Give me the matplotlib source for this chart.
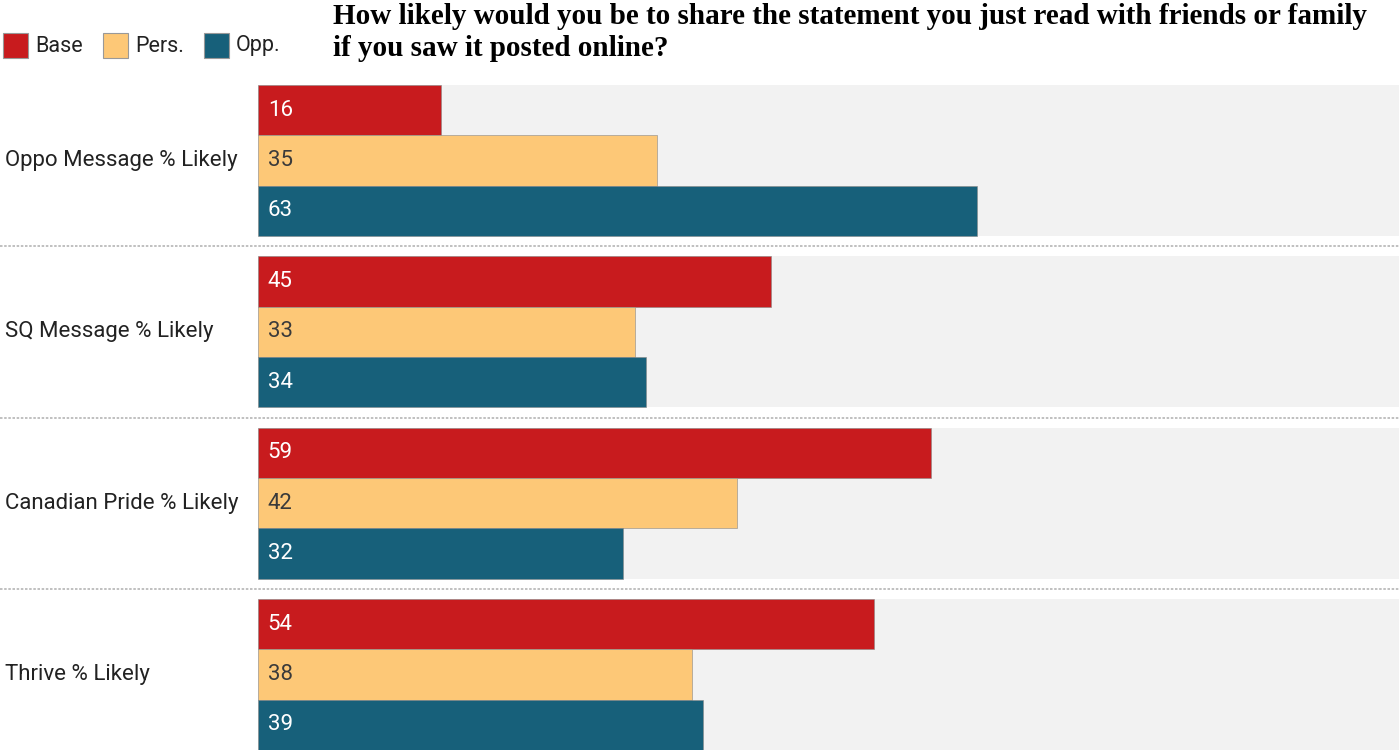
import matplotlib
matplotlib.use('Agg')
import matplotlib.pyplot as plt
import matplotlib.transforms as mtransforms
from matplotlib.patches import Rectangle

categories = ['Oppo Message % Likely', 'SQ Message % Likely',
              'Canadian Pride % Likely', 'Thrive % Likely']
series = ['Base', 'Pers.', 'Opp.']
base = [16, 45, 59, 54]
pers = [35, 33, 42, 38]
opp = [63, 34, 32, 39]
title = ('How likely would you be to share the statement you just read with friends or family\n'
         'if you saw it posted online?')

colors = ['#c81b1e', '#fdc877', '#17607a']
text_colors = ['white', '#3a3a3a', 'white']
W, H = 1399, 752

plt.rcParams['font.family'] = ['Roboto', 'DejaVu Sans']
fig = plt.figure(figsize=(W / 100, H / 100), dpi=100)
ax = fig.add_axes([258 / W, 1 - 750 / H, (1399 - 258) / W, (750 - 85) / H])

pitch = 3.41
values = [base, pers, opp]
for g, cat in enumerate(categories):
    c = g * pitch
    ax.barh(c, 100, height=3, color='#f2f2f2', zorder=0)
    for s in range(3):
        y = c - 1 + s
        v = values[s][g]
        ax.barh(y, v, height=1, color=colors[s], edgecolor='#888888',
                linewidth=0.4, zorder=2)
        ax.text(0.85, y, str(v), color=text_colors[s], fontsize=16,
                va='center', ha='left', zorder=3)
    ax.text(5 / W, c, cat, transform=mtransforms.blended_transform_factory(
        fig.transFigure, ax.transData), fontsize=16, va='center',
        ha='left', color='#222222')
    if g < len(categories) - 1:
        sep = c + pitch / 2
        ax.plot([0, 1], [sep, sep], transform=mtransforms.blended_transform_factory(
            fig.transFigure, ax.transData), color='#b5b5b5', lw=1.2,
            ls=(0, (1.5, 1)), clip_on=False)

ax.set_xlim(0, 100)
ax.set_ylim(3 * pitch + 1.5, -1.5)
ax.axis('off')

# legend
leg_x = [3, 103, 204]
for s, name in enumerate(series):
    fig.add_artist(Rectangle((leg_x[s] / W, 1 - 58 / H), 25 / W, 25 / H,
                             transform=fig.transFigure, facecolor=colors[s],
                             edgecolor='#999999', linewidth=0.8))
    fig.text((leg_x[s] + 32) / W, 1 - 46 / H, name, fontsize=15.5,
             va='center', ha='left', color='#222222')

fig.text(333 / W, 1 - 3 / H, title, family='Liberation Serif', weight='bold',
         fontsize=21, va='top', ha='left', linespacing=1.26, color='black')

fig.savefig('out.png', dpi=100)
